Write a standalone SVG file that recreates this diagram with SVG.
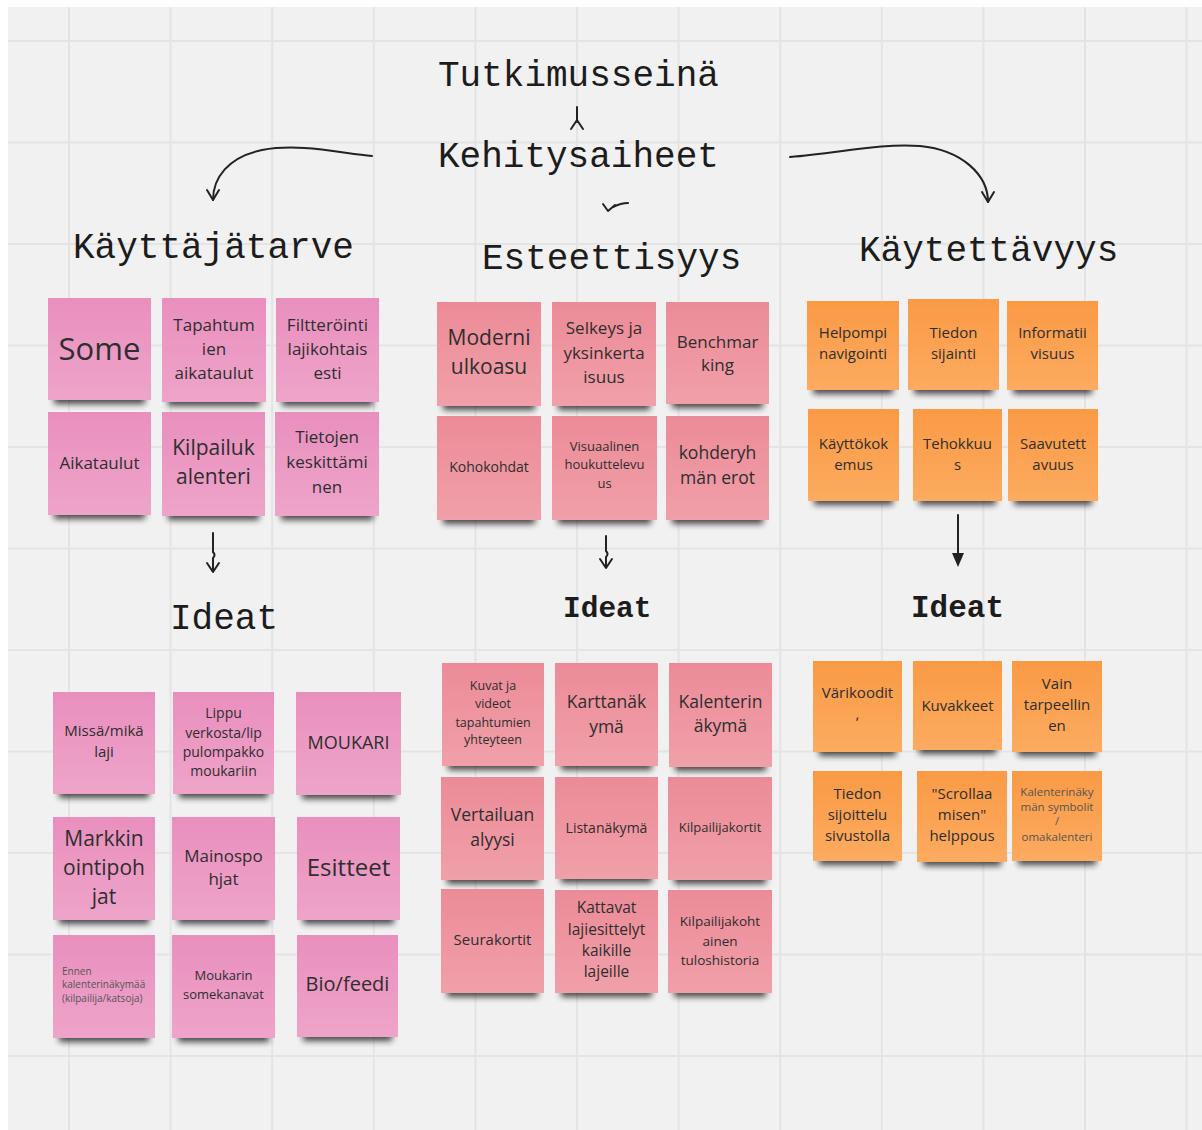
<svg xmlns="http://www.w3.org/2000/svg" width="1202" height="1130" viewBox="0 0 1202 1130">
<defs>
<style>
.grid line{stroke:#e4e4e4;stroke-width:2}
.pk{fill:url(#gpk)}
.rd{fill:url(#grd)}
.or{fill:url(#gor)}
.sh{fill:#000;opacity:.7;filter:url(#blur)}
.t{font-family:"Open Sans","Liberation Sans",sans-serif;fill:#2e2e2e;text-anchor:middle}
.tl{font-family:"Open Sans","Liberation Sans",sans-serif;fill:#555;text-anchor:start}
.tg{fill:#555}
.h{font-family:"Liberation Mono","DejaVu Sans Mono",monospace;fill:#1c1c1c;font-size:36px}
.hb{font-family:"Liberation Mono","DejaVu Sans Mono",monospace;fill:#1c1c1c;font-weight:bold}
.c{fill:none;stroke:#222;stroke-width:2;stroke-linecap:round;stroke-linejoin:round}
</style>
<filter id="blur" x="-20%" y="-100%" width="140%" height="300%"><feGaussianBlur stdDeviation="3"/></filter>
<linearGradient id="gpk" x1="0" y1="0" x2="0" y2="1"><stop offset="0" stop-color="#e98fbe"/><stop offset="1" stop-color="#eea4c9"/></linearGradient>
<linearGradient id="grd" x1="0" y1="0" x2="0" y2="1"><stop offset="0" stop-color="#ec8b98"/><stop offset="1" stop-color="#f0a0a9"/></linearGradient>
<linearGradient id="gor" x1="0" y1="0" x2="0" y2="1"><stop offset="0" stop-color="#fa9a45"/><stop offset="1" stop-color="#fcab60"/></linearGradient>
</defs>
<rect x="0" y="0" width="1202" height="1130" fill="#ffffff"/>
<rect x="8" y="7" width="1194" height="1123" fill="#f1f1f1"/>
<g class="grid">
<line x1="69" y1="7" x2="69" y2="1130"/><line x1="170.6" y1="7" x2="170.6" y2="1130"/><line x1="272.2" y1="7" x2="272.2" y2="1130"/><line x1="373.8" y1="7" x2="373.8" y2="1130"/><line x1="475.4" y1="7" x2="475.4" y2="1130"/><line x1="577" y1="7" x2="577" y2="1130"/><line x1="678.6" y1="7" x2="678.6" y2="1130"/><line x1="780.2" y1="7" x2="780.2" y2="1130"/><line x1="881.8" y1="7" x2="881.8" y2="1130"/><line x1="983.4" y1="7" x2="983.4" y2="1130"/><line x1="1085" y1="7" x2="1085" y2="1130"/><line x1="1186.6" y1="7" x2="1186.6" y2="1130"/>
<line x1="8" y1="41" x2="1202" y2="41"/><line x1="8" y1="142.5" x2="1202" y2="142.5"/><line x1="8" y1="244" x2="1202" y2="244"/><line x1="8" y1="345.5" x2="1202" y2="345.5"/><line x1="8" y1="447" x2="1202" y2="447"/><line x1="8" y1="548.5" x2="1202" y2="548.5"/><line x1="8" y1="650" x2="1202" y2="650"/><line x1="8" y1="751.5" x2="1202" y2="751.5"/><line x1="8" y1="853" x2="1202" y2="853"/><line x1="8" y1="954.5" x2="1202" y2="954.5"/><line x1="8" y1="1056" x2="1202" y2="1056"/>
</g>

<g id="title-tutkimusseina"><text class="h" x="438" y="86">Tutkimusseinä</text></g>
<g id="title-kehitysaiheet"><text class="h" x="438" y="167">Kehitysaiheet</text></g>
<g id="title-kayttajatarve"><text class="h" x="73" y="258">Käyttäjätarve</text></g>
<g id="title-esteettisyys"><text class="h" x="482" y="269">Esteettisyys</text></g>
<g id="title-kaytettavyys"><text class="h" x="859" y="261">Käytettävyys</text></g>
<g id="ideat-left"><text class="h" x="170" y="629">Ideat</text></g>
<g id="ideat-middle"><text class="hb" x="563" y="617" font-size="29.5">Ideat</text></g>
<g id="ideat-right"><text class="hb" x="911" y="617" font-size="31">Ideat</text></g>

<g id="connectors">
<path class="c" d="M372 156 C340 153 300 143 262 150 C228 157 213 178 213 200"/>
<path class="c" d="M207 190 L213 200 L219 190"/>
<path class="c" d="M790 157 C840 153 880 143 920 146 C962 150 988 175 988 202"/>
<path class="c" d="M982 192 L988 202 L994 192"/>
<path class="c" d="M577 107 L577 122"/>
<path class="c" stroke-width="1.6" d="M571 129 L577 120 L583 129"/>
<path class="c" stroke-width="1.6" d="M628 203 Q621 203 613 207"/>
<path class="c" stroke-width="1.6" d="M603 204 L608 211 L615 205"/>
<path class="c" d="M213 533 L213 552 Q216 555 213 558 L213 571"/>
<path class="c" d="M207 563 L213 572 L219 563"/>
<path class="c" d="M606 536 L606 551 Q609 554 606 557 L606 567"/>
<path class="c" d="M600 559 L606 568 L612 559"/>
<path class="c" d="M958 515 L958 556"/>
<path d="M952 553 L964 553 L958 567 Z" fill="#222"/>
</g>

<g id="n-some"><rect class="sh" x="54" y="392" width="91" height="12"/><rect class="pk" x="48" y="298" width="103" height="102"/><text class="t" x="99.5" y="360" font-size="31">Some</text></g>
<g id="n-tapahtumien"><rect class="sh" x="168" y="394" width="92" height="12"/><rect class="pk" x="162" y="298" width="104" height="104"/><text class="t" font-size="17"><tspan x="214" y="331">Tapahtum</tspan><tspan x="214" y="355">ien</tspan><tspan x="214" y="379">aikataulut</tspan></text></g>
<g id="n-filtterointi"><rect class="sh" x="282" y="394" width="91" height="12"/><rect class="pk" x="276" y="298" width="103" height="104"/><text class="t" font-size="17"><tspan x="327.5" y="331">Filtteröinti</tspan><tspan x="327.5" y="355">lajikohtais</tspan><tspan x="327.5" y="379">esti</tspan></text></g>
<g id="n-aikataulut"><rect class="sh" x="54" y="507" width="91" height="12"/><rect class="pk" x="48" y="412" width="103" height="103"/><text class="t" x="99.5" y="469" font-size="17">Aikataulut</text></g>
<g id="n-kilpailukalenteri"><rect class="sh" x="168" y="508" width="91" height="12"/><rect class="pk" x="162" y="412" width="103" height="104"/><text class="t" font-size="21"><tspan x="213.5" y="455">Kilpailuk</tspan><tspan x="213.5" y="484">alenteri</tspan></text></g>
<g id="n-tietojen"><rect class="sh" x="281" y="508" width="92" height="12"/><rect class="pk" x="275" y="412" width="104" height="104"/><text class="t" font-size="17"><tspan x="327" y="443">Tietojen</tspan><tspan x="327" y="468">keskittämi</tspan><tspan x="327" y="493">nen</tspan></text></g>

<g id="n-moderni"><rect class="sh" x="443" y="398" width="92" height="12"/><rect class="rd" x="437" y="302" width="104" height="104"/><text class="t" font-size="21"><tspan x="489" y="345">Moderni</tspan><tspan x="489" y="374">ulkoasu</tspan></text></g>
<g id="n-selkeys"><rect class="sh" x="558" y="398" width="92" height="12"/><rect class="rd" x="552" y="302" width="104" height="104"/><text class="t" font-size="17"><tspan x="604" y="334">Selkeys ja</tspan><tspan x="604" y="359">yksinkerta</tspan><tspan x="604" y="383">isuus</tspan></text></g>
<g id="n-benchmarking"><rect class="sh" x="672" y="396" width="91" height="12"/><rect class="rd" x="666" y="302" width="103" height="102"/><text class="t" font-size="17"><tspan x="717.5" y="348">Benchmar</tspan><tspan x="717.5" y="371">king</tspan></text></g>
<g id="n-kohokohdat"><rect class="sh" x="443" y="512" width="92" height="12"/><rect class="rd" x="437" y="416" width="104" height="104"/><text class="t" x="489" y="472" font-size="14">Kohokohdat</text></g>
<g id="n-visuaalinen"><rect class="sh" x="558" y="512" width="93" height="12"/><rect class="rd" x="552" y="416" width="105" height="104"/><text class="t" font-size="13"><tspan x="604.5" y="451">Visuaalinen</tspan><tspan x="604.5" y="469">houkuttelevu</tspan><tspan x="604.5" y="488">us</tspan></text></g>
<g id="n-kohderyhman"><rect class="sh" x="672" y="512" width="91" height="12"/><rect class="rd" x="666" y="416" width="103" height="104"/><text class="t" font-size="17.5"><tspan x="717.5" y="459">kohderyh</tspan><tspan x="717.5" y="484">män erot</tspan></text></g>

<g id="n-helpompi"><rect class="sh" x="813" y="382" width="80" height="12"/><rect class="or" x="807" y="301" width="92" height="89"/><text class="t" font-size="15"><tspan x="853" y="338">Helpompi</tspan><tspan x="853" y="359">navigointi</tspan></text></g>
<g id="n-tiedon-sijainti"><rect class="sh" x="914" y="382" width="79" height="12"/><rect class="or" x="908" y="299" width="91" height="91"/><text class="t" font-size="15"><tspan x="953.5" y="338">Tiedon</tspan><tspan x="953.5" y="359">sijainti</tspan></text></g>
<g id="n-informaatiivisuus"><rect class="sh" x="1013" y="382" width="79" height="12"/><rect class="or" x="1007" y="301" width="91" height="89"/><text class="t" font-size="15"><tspan x="1052.5" y="338">Informatii</tspan><tspan x="1052.5" y="359">visuus</tspan></text></g>
<g id="n-kayttokokemus"><rect class="sh" x="814" y="493" width="79" height="12"/><rect class="or" x="808" y="409" width="91" height="92"/><text class="t" font-size="15"><tspan x="853.5" y="449">Käyttökok</tspan><tspan x="853.5" y="470">emus</tspan></text></g>
<g id="n-tehokkuus"><rect class="sh" x="919" y="493" width="77" height="12"/><rect class="or" x="913" y="409" width="89" height="92"/><text class="t" font-size="15"><tspan x="957.5" y="449">Tehokkuu</tspan><tspan x="957.5" y="470">s</tspan></text></g>
<g id="n-saavutettavuus"><rect class="sh" x="1014" y="493" width="78" height="12"/><rect class="or" x="1008" y="409" width="90" height="92"/><text class="t" font-size="15"><tspan x="1053" y="449">Saavutett</tspan><tspan x="1053" y="470">avuus</tspan></text></g>

<g id="n-missa"><rect class="sh" x="59" y="786" width="90" height="12"/><rect class="pk" x="53" y="692" width="102" height="102"/><text class="t" font-size="15"><tspan x="104" y="736">Missä/mikä</tspan><tspan x="104" y="757">laji</tspan></text></g>
<g id="n-lippu"><rect class="sh" x="179" y="786" width="89" height="12"/><rect class="pk" x="173" y="692" width="101" height="102"/><text class="t" font-size="14"><tspan x="223.5" y="718">Lippu</tspan><tspan x="223.5" y="738">verkosta/lip</tspan><tspan x="223.5" y="757">pulompakko</tspan><tspan x="223.5" y="776">moukariin</tspan></text></g>
<g id="n-moukari"><rect class="sh" x="302" y="787" width="93" height="12"/><rect class="pk" x="296" y="692" width="105" height="103"/><text class="t" x="348.5" y="749" font-size="18">MOUKARI</text></g>
<g id="n-markkinointipohjat"><rect class="sh" x="59" y="912" width="90" height="12"/><rect class="pk" x="53" y="817" width="102" height="103"/><text class="t" font-size="21"><tspan x="104" y="846">Markkin</tspan><tspan x="104" y="875">ointipoh</tspan><tspan x="104" y="904">jat</tspan></text></g>
<g id="n-mainospohjat"><rect class="sh" x="178" y="912" width="91" height="12"/><rect class="pk" x="172" y="817" width="103" height="103"/><text class="t" font-size="17"><tspan x="223.5" y="862">Mainospo</tspan><tspan x="223.5" y="885">hjat</tspan></text></g>
<g id="n-esitteet"><rect class="sh" x="303" y="912" width="91" height="12"/><rect class="pk" x="297" y="817" width="103" height="103"/><text class="t" x="348.5" y="876" font-size="24">Esitteet</text></g>
<g id="n-ennen"><rect class="sh" x="59" y="1030" width="90" height="12"/><rect class="pk" x="53" y="935" width="102" height="103"/><text class="tl" font-size="10"><tspan x="62" y="974.5">Ennen</tspan><tspan x="62" y="988">kalenterinäkymää</tspan><tspan x="62" y="1001.5">(kilpailija/katsoja)</tspan></text></g>
<g id="n-moukarin-somekanavat"><rect class="sh" x="178" y="1030" width="91" height="12"/><rect class="pk" x="172" y="935" width="103" height="103"/><text class="t" font-size="13"><tspan x="223.5" y="980">Moukarin</tspan><tspan x="223.5" y="999">somekanavat</tspan></text></g>
<g id="n-bio"><rect class="sh" x="303" y="1029" width="89" height="12"/><rect class="pk" x="297" y="935" width="101" height="102"/><text class="t" x="347.5" y="991" font-size="20">Bio/feedi</text></g>

<g id="n-kuvat"><rect class="sh" x="448" y="758" width="90" height="12"/><rect class="rd" x="442" y="663" width="102" height="103"/><text class="t" font-size="12.5"><tspan x="493" y="690">Kuvat ja</tspan><tspan x="493" y="708">videot</tspan><tspan x="493" y="727">tapahtumien</tspan><tspan x="493" y="744">yhteyteen</tspan></text></g>
<g id="n-karttanakyma"><rect class="sh" x="561" y="758" width="91" height="12"/><rect class="rd" x="555" y="663" width="103" height="103"/><text class="t" font-size="17.5"><tspan x="606.5" y="708">Karttanäk</tspan><tspan x="606.5" y="733">ymä</tspan></text></g>
<g id="n-kalenterinakyma"><rect class="sh" x="675" y="759" width="91" height="12"/><rect class="rd" x="669" y="663" width="103" height="104"/><text class="t" font-size="17.5"><tspan x="720.5" y="708">Kalenterin</tspan><tspan x="720.5" y="732">äkymä</tspan></text></g>
<g id="n-vertailuanalyysi"><rect class="sh" x="447" y="872" width="91" height="12"/><rect class="rd" x="441" y="777" width="103" height="103"/><text class="t" font-size="17.5"><tspan x="492.5" y="821">Vertailuan</tspan><tspan x="492.5" y="846">alyysi</tspan></text></g>
<g id="n-listanakyma"><rect class="sh" x="561" y="871" width="91" height="12"/><rect class="rd" x="555" y="777" width="103" height="102"/><text class="t" x="606.5" y="833" font-size="14">Listanäkymä</text></g>
<g id="n-kilpailijakortit"><rect class="sh" x="674" y="872" width="92" height="12"/><rect class="rd" x="668" y="777" width="104" height="103"/><text class="t" x="720" y="831.5" font-size="13">Kilpailijakortit</text></g>
<g id="n-seurakortit"><rect class="sh" x="447" y="985" width="91" height="12"/><rect class="rd" x="441" y="889" width="103" height="104"/><text class="t" x="492.5" y="945" font-size="15">Seurakortit</text></g>
<g id="n-kattavat"><rect class="sh" x="561" y="985" width="91" height="12"/><rect class="rd" x="555" y="890" width="103" height="103"/><text class="t" font-size="15.5"><tspan x="606.5" y="913">Kattavat</tspan><tspan x="606.5" y="935">lajiesittelyt</tspan><tspan x="606.5" y="956">kaikille</tspan><tspan x="606.5" y="977">lajeille</tspan></text></g>
<g id="n-kilpailijakohtainen"><rect class="sh" x="674" y="985" width="92" height="12"/><rect class="rd" x="668" y="890" width="104" height="103"/><text class="t" font-size="13.5"><tspan x="720" y="925.5">Kilpailijakoht</tspan><tspan x="720" y="945.5">ainen</tspan><tspan x="720" y="964.5">tuloshistoria</tspan></text></g>

<g id="n-varikoodit"><rect class="sh" x="819" y="744" width="77" height="12"/><rect class="or" x="813" y="661" width="89" height="91"/><text class="t" font-size="15"><tspan x="857.5" y="698">Värikoodit</tspan><tspan x="857.5" y="719">,</tspan></text></g>
<g id="n-kuvakkeet"><rect class="sh" x="919" y="742" width="77" height="12"/><rect class="or" x="913" y="661" width="89" height="89"/><text class="t" x="957.5" y="711" font-size="15">Kuvakkeet</text></g>
<g id="n-vain"><rect class="sh" x="1018" y="744" width="78" height="12"/><rect class="or" x="1012" y="661" width="90" height="91"/><text class="t" font-size="15"><tspan x="1057" y="689">Vain</tspan><tspan x="1057" y="710">tarpeellin</tspan><tspan x="1057" y="731">en</tspan></text></g>
<g id="n-tiedon-sijoittelu"><rect class="sh" x="819" y="853" width="77" height="12"/><rect class="or" x="813" y="771" width="89" height="90"/><text class="t" font-size="15"><tspan x="857.5" y="799">Tiedon</tspan><tspan x="857.5" y="820">sijoittelu</tspan><tspan x="857.5" y="841">sivustolla</tspan></text></g>
<g id="n-scrollaamisen"><rect class="sh" x="923" y="854" width="78" height="12"/><rect class="or" x="917" y="771" width="90" height="91"/><text class="t" font-size="15"><tspan x="962" y="799">"Scrollaa</tspan><tspan x="962" y="820">misen"</tspan><tspan x="962" y="841">helppous</tspan></text></g>
<g id="n-kalenterinakyman-symbolit"><rect class="sh" x="1018" y="853" width="78" height="12"/><rect class="or" x="1012" y="771" width="90" height="90"/><text class="t tg" font-size="11.5"><tspan x="1057" y="796">Kalenterinäky</tspan><tspan x="1057" y="810.5">män symbolit</tspan><tspan x="1057" y="825">/</tspan><tspan x="1057" y="841">omakalenteri</tspan></text></g>
</svg>
